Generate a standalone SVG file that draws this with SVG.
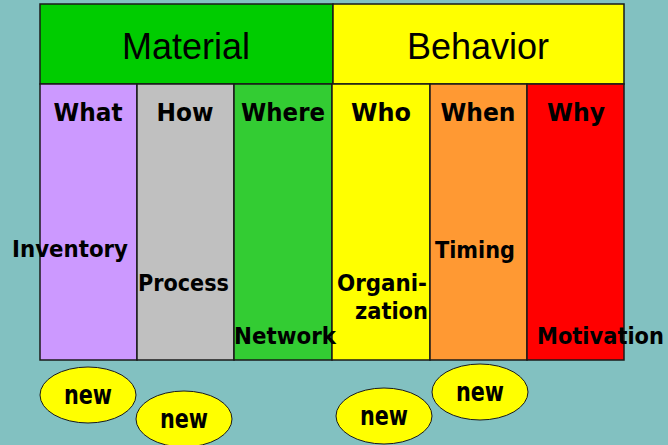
<svg xmlns="http://www.w3.org/2000/svg" width="668" height="445" viewBox="0 0 668 445">
<style>
.cell{stroke:#1a1a1a;stroke-width:1.5}
.hdr{font-family:"Liberation Sans",Arial,sans-serif;font-size:36px;fill:#000;text-anchor:middle}
.col{font-family:"DejaVu Sans",Verdana,sans-serif;font-weight:bold;font-size:25.5px;fill:#000;text-anchor:middle}
.lbl{font-family:"DejaVu Sans",Verdana,sans-serif;font-weight:bold;font-size:23.5px;fill:#000}
.oval{fill:#ffff00;stroke:#1a1a1a;stroke-width:1}
.new{font-family:"DejaVu Sans",Verdana,sans-serif;font-weight:bold;font-size:26px;fill:#000;text-anchor:middle}
</style>
<rect x="0" y="0" width="668" height="445" fill="#82c1c1"/>
<g id="material">
<rect class="cell" x="40" y="4" width="293" height="80" fill="#00cc00"/>
<text class="hdr" x="186" y="59">Material</text>
</g>
<g id="behavior">
<rect class="cell" x="333" y="4" width="291" height="80" fill="#ffff00"/>
<text class="hdr" x="478" y="59">Behavior</text>
</g>
<g id="what">
<rect class="cell" x="40" y="84" width="97" height="276" fill="#cc99ff"/>
<text class="col" x="88" y="121" textLength="69" lengthAdjust="spacingAndGlyphs">What</text>
</g>
<g id="how">
<rect class="cell" x="137" y="84" width="97" height="276" fill="#c0c0c0"/>
<text class="col" x="185" y="121" textLength="57" lengthAdjust="spacingAndGlyphs">How</text>
</g>
<g id="where">
<rect class="cell" x="234" y="84" width="98" height="276" fill="#33cc33"/>
<text class="col" x="283" y="121" textLength="84" lengthAdjust="spacingAndGlyphs">Where</text>
</g>
<g id="who">
<rect class="cell" x="332" y="84" width="98" height="276" fill="#ffff00"/>
<text class="col" x="381" y="121" textLength="60" lengthAdjust="spacingAndGlyphs">Who</text>
</g>
<g id="when">
<rect class="cell" x="430" y="84" width="97" height="276" fill="#ff9933"/>
<text class="col" x="478" y="121" textLength="75" lengthAdjust="spacingAndGlyphs">When</text>
</g>
<g id="why">
<rect class="cell" x="527" y="84" width="97" height="276" fill="#ff0000"/>
<text class="col" x="576" y="121" textLength="58" lengthAdjust="spacingAndGlyphs">Why</text>
</g>
<g id="labels">
<text class="lbl" x="12" y="257" textLength="116" lengthAdjust="spacingAndGlyphs">Inventory</text>
<text class="lbl" x="138" y="291" textLength="91" lengthAdjust="spacingAndGlyphs">Process</text>
<text class="lbl" x="234" y="344" textLength="102" lengthAdjust="spacingAndGlyphs">Network</text>
<text class="lbl" x="337" y="291" textLength="90" lengthAdjust="spacingAndGlyphs">Organi-</text>
<text class="lbl" x="355" y="319" textLength="73" lengthAdjust="spacingAndGlyphs">zation</text>
<text class="lbl" x="435" y="258" textLength="80" lengthAdjust="spacingAndGlyphs">Timing</text>
<text class="lbl" x="537" y="344" textLength="127" lengthAdjust="spacingAndGlyphs">Motivation</text>
</g>
<g id="new1"><ellipse class="oval" cx="88" cy="395" rx="48" ry="28"/><text class="new" x="88" y="404" textLength="48" lengthAdjust="spacingAndGlyphs">new</text></g>
<g id="new2"><ellipse class="oval" cx="184" cy="419" rx="48" ry="28"/><text class="new" x="184" y="428" textLength="48" lengthAdjust="spacingAndGlyphs">new</text></g>
<g id="new3"><ellipse class="oval" cx="384" cy="416" rx="48" ry="28"/><text class="new" x="384" y="425" textLength="48" lengthAdjust="spacingAndGlyphs">new</text></g>
<g id="new4"><ellipse class="oval" cx="480" cy="392" rx="48" ry="28"/><text class="new" x="480" y="401" textLength="48" lengthAdjust="spacingAndGlyphs">new</text></g>
<g id="connectors"></g>
</svg>
